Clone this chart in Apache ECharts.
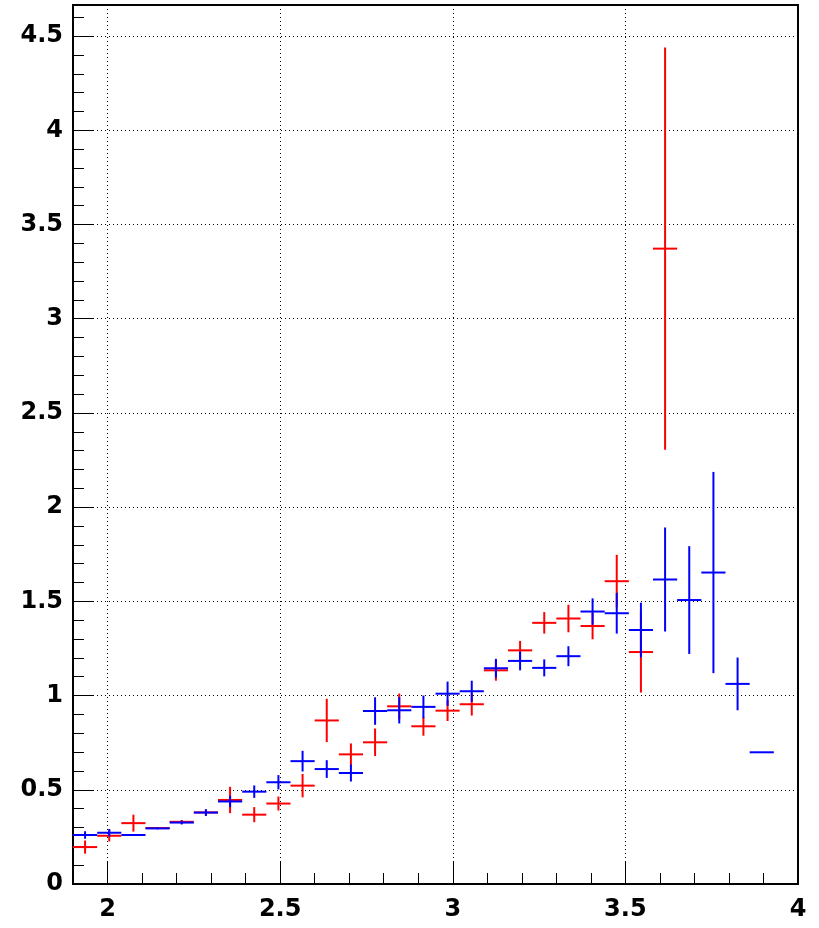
<!DOCTYPE html>
<html>
<head>
<meta charset="utf-8">
<script src="https://cdn.jsdelivr.net/npm/echarts@6/dist/echarts.min.js"></script>
<style>
html,body{margin:0;padding:0;background:#fff;}
#chart{width:819px;height:928px;}
</style>
</head>
<body>
<div id="chart"></div>
<script>
// ---- data ----
const binWidth = 0.07;
const binCenters = [1.935, 2.005, 2.075, 2.145, 2.215, 2.285, 2.355, 2.425, 2.495, 2.565,
                    2.635, 2.705, 2.775, 2.845, 2.915, 2.985, 3.055, 3.125, 3.195, 3.265,
                    3.335, 3.405, 3.475, 3.545, 3.615, 3.685, 3.755, 3.825, 3.895];
const redValues = [0.196, 0.256, 0.323, 0.297, 0.330, 0.380, 0.446, 0.368, 0.427, 0.522,
                   0.868, 0.688, 0.752, 0.943, 0.837, 0.920, 0.954, 1.134, 1.240, 1.386,
                   1.409, 1.369, 1.607, 1.231, 3.372, null, null, null, null];
const redErrors = [0.035, 0.030, 0.045, 0.005, 0.010, 0.015, 0.070, 0.040, 0.037, 0.062,
                   0.115, 0.058, 0.073, 0.068, 0.050, 0.055, 0.060, 0.055, 0.050, 0.057,
                   0.073, 0.070, 0.140, 0.215, 1.067, null, null, null, null];
const blueValues = [0.260, 0.272, 0.260, 0.295, 0.326, 0.379, 0.438, 0.490, 0.540, 0.652,
                    0.610, 0.589, 0.918, 0.922, 0.940, 1.010, 1.023, 1.145, 1.184, 1.147,
                    1.209, 1.446, 1.437, 1.348, 1.616, 1.507, 1.653, 1.062, 0.699];
const blueErrors = [0.020, 0.020, 0.003, 0.005, 0.010, 0.018, 0.030, 0.033, 0.038, 0.055,
                    0.047, 0.045, 0.073, 0.070, 0.060, 0.064, 0.056, 0.050, 0.050, 0.045,
                    0.053, 0.070, 0.108, 0.145, 0.276, 0.286, 0.534, 0.140, 0.000];
const xMajorTicks = [2, 2.5, 3, 3.5, 4];
const xMinorTicks = [2.1, 2.2, 2.3, 2.4, 2.6, 2.7, 2.8, 2.9, 3.1, 3.2, 3.3, 3.4, 3.6, 3.7, 3.8, 3.9];
const yMajorTicks = [0, 0.5, 1, 1.5, 2, 2.5, 3, 3.5, 4, 4.5];
const yMinorTicks = [0.1, 0.2, 0.3, 0.4, 0.6, 0.7, 0.8, 0.9, 1.1, 1.2, 1.3, 1.4, 1.6, 1.7, 1.8, 1.9,
                     2.1, 2.2, 2.3, 2.4, 2.6, 2.7, 2.8, 2.9, 3.1, 3.2, 3.3, 3.4, 3.6, 3.7, 3.8, 3.9,
                     4.1, 4.2, 4.3, 4.4, 4.6];
const xRange = [1.9, 4.0];
const yRange = [0, 4.665];

// ---- build ----
function makeData(vals, errs) {
  const out = [];
  for (let i = 0; i < binCenters.length; i++) {
    if (vals[i] === null) continue;
    out.push([binCenters[i], vals[i], errs[i]]);
  }
  return out;
}

function errRender(color) {
  return function (params, api) {
    const x = api.value(0), y = api.value(1), e = api.value(2);
    const pL = api.coord([x - binWidth / 2, y]);
    const pR = api.coord([x + binWidth / 2, y]);
    const pT = api.coord([x, y + e]);
    const pB = api.coord([x, y - e]);
    const style = { stroke: color, lineWidth: 2 };
    return {
      type: 'group',
      children: [
        { type: 'line', shape: { x1: pL[0], y1: pL[1], x2: pR[0], y2: pR[1] }, style: style },
        { type: 'line', shape: { x1: pT[0], y1: pT[1], x2: pB[0], y2: pB[1] }, style: style }
      ]
    };
  };
}

const labelFont = { fontFamily: 'DejaVu Sans', fontWeight: 'bold', fontSize: 24, color: '#000' };
const dotted = { show: true, lineStyle: { color: '#000', type: [1, 3], width: 1 } };

const chart = echarts.init(document.getElementById('chart'), null, { renderer: 'canvas' });
chart.setOption({
  animation: false,
  backgroundColor: '#fff',
  grid: { left: 73, right: 21, top: 5, bottom: 44, show: true, borderColor: '#000', borderWidth: 2, backgroundColor: 'transparent' },
  xAxis: [
    {
      type: 'value', min: xRange[0], max: xRange[1], position: 'bottom',
      axisLine: { show: true, onZero: false, lineStyle: { color: '#000', width: 2 } },
      axisTick: { show: true, inside: true, length: 22, customValues: xMajorTicks, lineStyle: { color: '#000', width: 1 } },
      axisLabel: Object.assign({ show: true, margin: 14, customValues: xMajorTicks,
        formatter: v => String(v) }, labelFont),
      splitLine: dotted
    },
    {
      type: 'value', min: xRange[0], max: xRange[1], position: 'bottom',
      axisLine: { show: false },
      axisTick: { show: true, inside: true, length: 11, customValues: xMinorTicks, lineStyle: { color: '#000', width: 1 } },
      axisLabel: { show: false },
      splitLine: { show: false }
    }
  ],
  yAxis: [
    {
      type: 'value', min: yRange[0], max: yRange[1], position: 'left',
      axisLine: { show: true, onZero: false, lineStyle: { color: '#000', width: 2 } },
      axisTick: { show: true, inside: true, length: 20, customValues: yMajorTicks, lineStyle: { color: '#000', width: 1 } },
      axisLabel: Object.assign({ show: true, margin: 10, customValues: yMajorTicks,
        formatter: v => String(v) }, labelFont),
      splitLine: dotted
    },
    {
      type: 'value', min: yRange[0], max: yRange[1], position: 'left',
      axisLine: { show: false },
      axisTick: { show: true, inside: true, length: 11, customValues: yMinorTicks, lineStyle: { color: '#000', width: 1 } },
      axisLabel: { show: false },
      splitLine: { show: false }
    }
  ],
  series: [
    { type: 'custom', name: 'red', xAxisIndex: 0, yAxisIndex: 0, renderItem: errRender('#ff0000'),
      data: makeData(redValues, redErrors), encode: { x: 0, y: 1 }, clip: true, z: 3 },
    { type: 'custom', name: 'blue', xAxisIndex: 0, yAxisIndex: 0, renderItem: errRender('#0000ff'),
      data: makeData(blueValues, blueErrors), encode: { x: 0, y: 1 }, clip: true, z: 4 }
  ]
});
</script>
</body>
</html>
